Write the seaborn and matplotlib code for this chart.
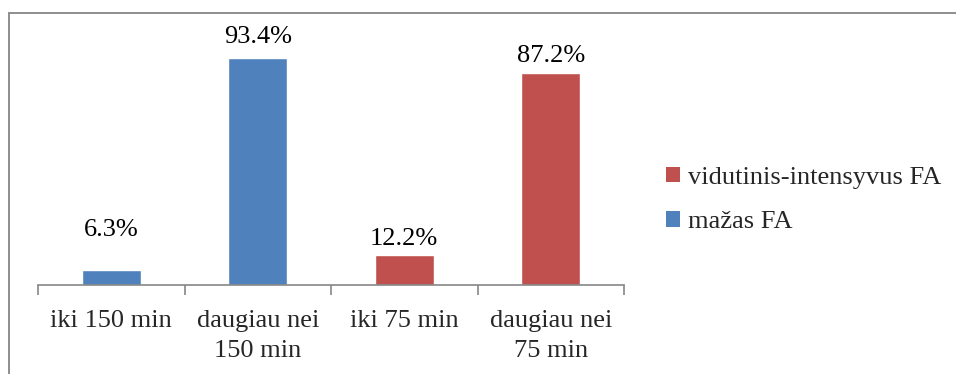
import matplotlib
matplotlib.use("Agg")
import matplotlib.pyplot as plt
from matplotlib.lines import Line2D
from matplotlib.patches import Patch
import seaborn as sns
import pandas as pd

categories = ["iki 150 min", "daugiau nei\n150 min", "iki 75 min", "daugiau nei\n75 min"]
values = [6.3, 93.4, 12.2, 87.2]
series = ["mažas FA", "mažas FA", "vidutinis-intensyvus FA", "vidutinis-intensyvus FA"]
legend_order = ["vidutinis-intensyvus FA", "mažas FA"]
colors = {"mažas FA": "#4F81BD", "vidutinis-intensyvus FA": "#C0504D"}

# vertical gap (px) between each bar top and its value label
label_gaps = [34, 15, 10, 11]

sns.set_theme(style="white")
plt.rcParams["font.family"] = ["Liberation Serif", "DejaVu Serif"]

df = pd.DataFrame({"kategorija": categories, "procentai": values, "grupe": series})

fig = plt.figure(figsize=(9.56, 3.74), dpi=100)
ax = fig.add_axes([38 / 956, 1 - 285 / 374, (624 - 38) / 956, (285 - 42) / 374])

sns.barplot(data=df, x="kategorija", y="procentai", hue="grupe", palette=colors,
            dodge=False, width=0.4, ax=ax, legend=False, saturation=1)

for i, (v, gap) in enumerate(zip(values, label_gaps)):
    ax.annotate(f"{v:.1f}%", (i, v), xytext=(0, gap * 0.72), textcoords="offset points",
                ha="center", va="baseline", fontsize=19, color="black", annotation_clip=False)

ax.set_ylim(0, 100)
ax.set_xlim(-0.5, len(categories) - 0.5)
ax.set_xlabel("")
ax.set_ylabel("")
ax.set_yticks([])
for side in ["top", "right", "left"]:
    ax.spines[side].set_visible(False)
ax.spines["bottom"].set_color("#868686")
ax.spines["bottom"].set_linewidth(1.2)

ax.set_xticks(range(len(categories)))
ax.set_xticklabels(categories, fontsize=19, linespacing=1.45)
ax.tick_params(axis="x", which="major", length=0, pad=18)
ax.set_xticks([i - 0.5 for i in range(len(categories) + 1)], minor=True)
ax.tick_params(axis="x", which="minor", length=7, width=1.2, color="#868686", direction="out", bottom=True)

handles = [Patch(facecolor=colors[s], edgecolor="none", label=s) for s in legend_order]
fig.legend(handles=handles, loc="center left", bbox_to_anchor=(655 / 956, 1 - 200 / 374),
           frameon=False, fontsize=19, handlelength=0.55, handleheight=0.55,
           handletextpad=0.3, labelspacing=0.85, borderaxespad=0)

# outer frame of the chart area
fig.add_artist(Line2D([9 / 956, 9 / 956], [0, 1 - 13 / 374], transform=fig.transFigure,
                      color="#868686", linewidth=1.3))
fig.add_artist(Line2D([9 / 956, 1], [1 - 13 / 374, 1 - 13 / 374], transform=fig.transFigure,
                      color="#868686", linewidth=1.3))

fig.savefig("out.png", dpi=100)
